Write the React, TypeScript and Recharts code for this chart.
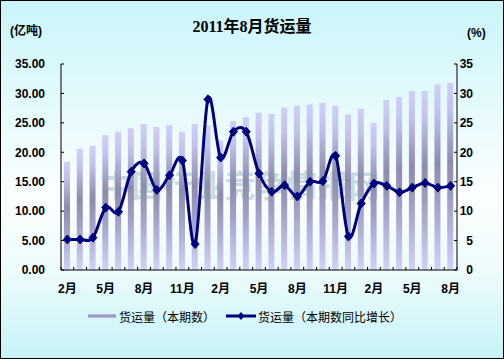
import React from 'react';
import { ComposedChart, Bar, Line, XAxis, YAxis } from 'recharts';

const months = [
  '2009-02', '2009-03', '2009-04', '2009-05', '2009-06', '2009-07', '2009-08', '2009-09', '2009-10', '2009-11', '2009-12',
  '2010-01', '2010-02', '2010-03', '2010-04', '2010-05', '2010-06', '2010-07', '2010-08', '2010-09', '2010-10', '2010-11', '2010-12',
  '2011-01', '2011-02', '2011-03', '2011-04', '2011-05', '2011-06', '2011-07', '2011-08',
];

// 货运量（本期数），亿吨
const volume = [
  18.4, 20.6, 21.1, 22.9, 23.5, 24.1, 24.8, 24.3, 24.6, 23.5, 24.8,
  24.6, 22.0, 25.3, 26.0, 26.7, 26.5, 27.6, 27.9, 28.1, 28.4, 27.9, 26.4,
  27.4, 25.0, 28.9, 29.4, 30.4, 30.4, 31.5, 31.8,
];

// 货运量（本期数同比增长），%
const growth = [
  5.2, 5.2, 5.5, 10.6, 9.9, 16.7, 18.1, 13.6, 16.1, 18.6, 4.4,
  29.0, 19.1, 23.5, 23.5, 16.4, 13.3, 14.4, 12.5, 15.0, 15.1, 19.4, 5.7,
  11.3, 14.7, 14.3, 13.2, 14.0, 14.8, 14.0, 14.3,
];

const leftTicks = [0, 5, 10, 15, 20, 25, 30, 35];
const rightTicks = [0, 5, 10, 15, 20, 25, 30, 35];

const data = months.map((m, i) => ({ month: m, volume: volume[i], growth: growth[i] }));

const NAVY = '#000080';
const FONT = '"Liberation Sans", Arial, "Noto Sans CJK SC", sans-serif';
const tickFont = { fontFamily: FONT, fontSize: 12, fontWeight: 700, fill: '#000' };

// excel style smoothed line (catmull-rom through the points)
const excelSmooth = (context: any) => {
  let pts: number[][] = [];
  return {
    areaStart() {},
    areaEnd() {},
    lineStart() {
      pts = [];
    },
    lineEnd() {
      if (!pts.length) return;
      context.moveTo(pts[0][0], pts[0][1]);
      for (let i = 0; i < pts.length - 1; i++) {
        const p0 = pts[Math.max(i - 1, 0)];
        const p1 = pts[i];
        const p2 = pts[i + 1];
        const p3 = pts[Math.min(i + 2, pts.length - 1)];
        context.bezierCurveTo(
          p1[0] + (p2[0] - p0[0]) / 6, p1[1] + (p2[1] - p0[1]) / 6,
          p2[0] - (p3[0] - p1[0]) / 6, p2[1] - (p3[1] - p1[1]) / 6,
          p2[0], p2[1]
        );
      }
    },
    point(x: number, y: number) {
      pts.push([+x, +y]);
    },
  };
};

const Diamond = ({ cx, cy }: any) => {
  if (cx == null || cy == null) return null;
  return <path d={`M${cx},${cy - 4.5}L${cx + 4},${cy}L${cx},${cy + 4.5}L${cx - 4},${cy}Z`} fill={NAVY} stroke={NAVY} strokeWidth={1} />;
};

// category ticks sit between the bars, a label on every third month
const MonthTick = ({ x, y, payload, index }: any) => {
  const half = payload && payload.offset ? payload.offset : 6.4;
  const i = payload && payload.index != null ? payload.index : index;
  const m = parseInt(String(payload.value).slice(5), 10);
  return (
    <g>
      <line x1={x - half} y1={y} x2={x - half} y2={y - 3} stroke="#000" />
      {i === months.length - 1 && <line x1={x + half} y1={y} x2={x + half} y2={y - 3} stroke="#000" />}
      {i % 3 === 0 && (
        <text x={x} y={y + 23} textAnchor="middle" {...tickFont}>
          {`${m}月`}
        </text>
      )}
    </g>
  );
};

const App: React.FC = () => {
  return (
    <div
      style={{
        position: 'absolute',
        left: 0,
        top: 0,
        width: 504,
        height: 359,
        background: 'linear-gradient(180deg, #c9f5fa 0%, #e6fafc 30%, #fbfefe 55%, #eefbfc 75%, #c6f3f8 100%)',
        fontFamily: FONT,
      }}
    >
      <ComposedChart width={504} height={359} data={data} margin={{ top: 64, right: 0, bottom: 59, left: 0 }} barCategoryGap={0}>
        <defs>
          <linearGradient id="barFill" x1="0" y1="0" x2="0" y2="1">
            <stop offset="0%" stopColor="#cfcff8" />
            <stop offset="15%" stopColor="#c2c2ec" />
            <stop offset="42%" stopColor="#8d8cae" />
            <stop offset="62%" stopColor="#9f9ec4" />
            <stop offset="100%" stopColor="#d2d2f8" />
          </linearGradient>
        </defs>
        <text
          x={240}
          y={197}
          textAnchor="middle"
          fontSize={31}
          fontWeight={700}
          fill="#6f9ea4"
          opacity={0.35}
          fontFamily='"Noto Sans CJK SC", sans-serif'
        >
          中国行业竞争情报网
        </text>
        <XAxis
          dataKey="month"
          interval={0}
          tickLine={false}
          tickSize={0}
          tickMargin={0}
          axisLine={{ stroke: '#000', strokeWidth: 1 }}
          height={30}
          tick={<MonthTick />}
        />
        <YAxis
          yAxisId="left"
          width={61}
          domain={[0, 35]}
          ticks={leftTicks}
          interval={0}
          axisLine={{ stroke: '#000' }}
          tickLine={{ stroke: '#000' }}
          tickSize={-3}
          tickMargin={19}
          tick={tickFont}
          tickFormatter={(v: number) => v.toFixed(2)}
        />
        <YAxis
          yAxisId="right"
          orientation="right"
          width={47}
          domain={[0, 35]}
          ticks={rightTicks}
          interval={0}
          axisLine={{ stroke: '#000' }}
          tickLine={{ stroke: '#000' }}
          tickSize={-3}
          tickMargin={19}
          tick={{ ...tickFont, textAnchor: 'end' }}
        />
        <Bar yAxisId="left" dataKey="volume" barSize={6} fill="url(#barFill)" isAnimationActive={false} />
        <Line
          yAxisId="right"
          dataKey="growth"
          type={excelSmooth as any}
          stroke={NAVY}
          strokeWidth={3}
          dot={<Diamond />}
          activeDot={false}
          isAnimationActive={false}
        />
      </ComposedChart>

      <div style={{ position: 'absolute', left: 0, top: 13, width: 504, textAlign: 'center', fontSize: 16, fontWeight: 700, fontFamily: '"Liberation Serif", "Noto Sans CJK SC", serif', color: '#000' }}>
        2011年8月货运量
      </div>
      <div style={{ position: 'absolute', left: 10, top: 21, fontSize: 12, fontWeight: 700, color: '#000' }}>(亿吨)</div>
      <div style={{ position: 'absolute', left: 467, top: 26, fontSize: 12, fontWeight: 700, color: '#000' }}>(%)</div>

      <div style={{ position: 'absolute', left: 88, top: 308, height: 16, display: 'flex', alignItems: 'center', fontSize: 12, color: '#000', fontFamily: '"Noto Sans CJK SC", sans-serif' }}>
        <svg width={28} height={8} style={{ marginRight: 3 }}>
          <defs>
            <linearGradient id="legBar" x1="0" y1="0" x2="0" y2="1">
              <stop offset="0%" stopColor="#c8c8f0" />
              <stop offset="50%" stopColor="#8d8cae" />
              <stop offset="100%" stopColor="#c8c8f0" />
            </linearGradient>
          </defs>
          <rect x={0} y={2} width={28} height={4} fill="url(#legBar)" />
        </svg>
        <span>货运量（本期数）</span>
        <svg width={30} height={10} style={{ marginLeft: 11, marginRight: 2 }}>
          <line x1={0} y1={5} x2={30} y2={5} stroke={NAVY} strokeWidth={3} />
          <path d="M15,1L18.5,5L15,9L11.5,5Z" fill={NAVY} />
        </svg>
        <span>货运量（本期数同比增长）</span>
      </div>

      <div style={{ position: 'absolute', left: 0, top: 0, width: 504, height: 359, boxSizing: 'border-box', border: '1px solid #000', pointerEvents: 'none' }} />
    </div>
  );
};

export default App;
